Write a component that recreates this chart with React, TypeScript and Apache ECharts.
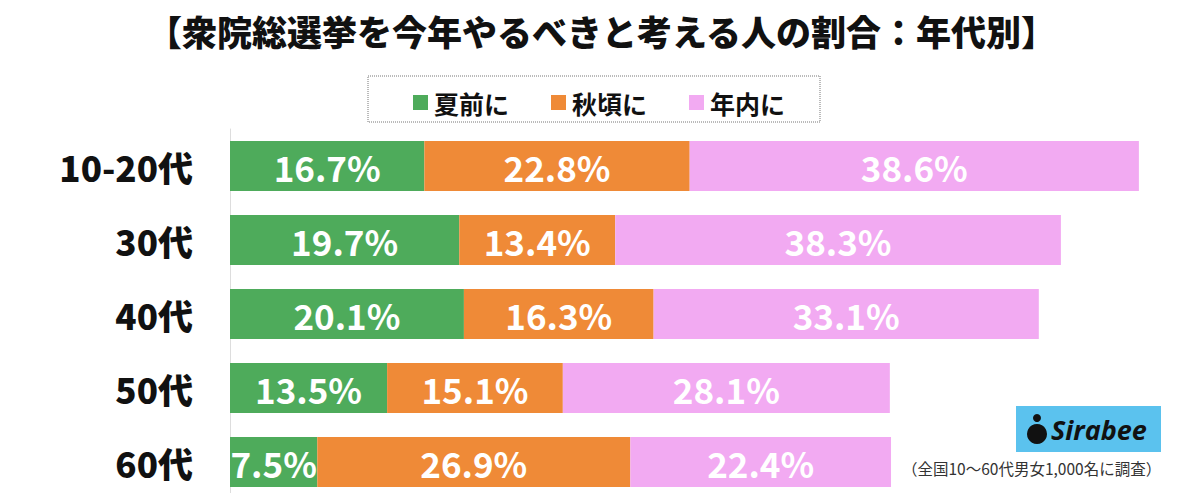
import React, { useEffect, useRef } from "react";
import * as echarts from "echarts";

const categories = ["10-20代", "30代", "40代", "50代", "60代"];
const seriesNames = ["夏前に", "秋頃に", "年内に"];
const summerValues = [16.7, 19.7, 20.1, 13.5, 7.5];
const autumnValues = [22.8, 13.4, 16.3, 15.1, 26.9];
const yearValues = [38.6, 38.3, 33.1, 28.1, 22.4];
const colors = ["#4eab5b", "#ef8a37", "#f2aaf2"];
const titleText = "【衆院総選挙を今年やるべきと考える人の割合：年代別】";
const noteText = "（全国10～60代男女1,000名に調査）";

const FONT = "'Noto Sans CJK JP', 'Noto Sans', sans-serif";

export default function App() {
  const ref = useRef<HTMLDivElement>(null);
  useEffect(() => {
    if (!ref.current) return;
    const chart = echarts.init(ref.current, null, { renderer: "svg" });
    const values = [summerValues, autumnValues, yearValues];
    chart.setOption({
      animation: false,
      backgroundColor: "#ffffff",
      textStyle: { fontFamily: FONT },
      title: {
        text: titleText,
        left: 142,
        top: 8,
        textStyle: { fontSize: 35, fontWeight: 900, color: "#111", fontFamily: FONT },
      },
      legend: {
        left: 408,
        top: 85,
        itemWidth: 15,
        itemHeight: 15,
        itemGap: 42,
        icon: "rect",
        data: seriesNames,
        textStyle: { fontSize: 25, fontWeight: "bold", color: "#111", fontFamily: FONT, padding: [0, 0, 0, 1] },
      },
      grid: { left: 230, right: 39, top: 129, bottom: 2, containLabel: false },
      xAxis: {
        type: "value",
        min: 0,
        max: 80,
        show: false,
      },
      yAxis: {
        type: "category",
        data: categories,
        inverse: true,
        axisLine: { show: true, lineStyle: { color: "#dddddd", width: 1 } },
        axisTick: { show: false },
        axisLabel: {
          margin: 37,
          fontSize: 35,
          fontWeight: 900,
          color: "#111",
          fontFamily: FONT,
        },
      },
      series: seriesNames.map((name, i) => ({
        name,
        type: "bar",
        stack: "total",
        barWidth: 50,
        data: values[i],
        itemStyle: { color: colors[i] },
        label: {
          show: true,
          position: "inside",
          formatter: "{c}%",
          color: "#ffffff",
          fontSize: 35,
          fontWeight: "bold",
          fontFamily: FONT,
        },
      })),
      graphic: [
        {
          type: "rect",
          shape: { x: 368, y: 76, width: 452, height: 46 },
          style: { fill: "none", stroke: "#777", lineWidth: 1, lineDash: [1, 1] },
        },
        {
          type: "rect",
          shape: { x: 1016, y: 406, width: 145, height: 46 },
          style: { fill: "#5bc2ee" },
        },
        {
          type: "circle",
          shape: { cx: 1037, cy: 434, r: 10 },
          style: { fill: "#111" },
        },
        {
          type: "circle",
          shape: { cx: 1037, cy: 418, r: 4 },
          style: { fill: "#111" },
        },
        {
          type: "text",
          style: {
            x: 1051,
            y: 429,
            text: "Sirabee",
            fill: "#111",
            font: `italic bold 27px 'Open Sans', sans-serif`,
            verticalAlign: "middle",
          },
        },
        {
          type: "text",
          style: {
            x: 902,
            y: 468,
            text: noteText,
            fill: "#333",
            font: `15.5px ${FONT}`,
            verticalAlign: "middle",
          },
        },
      ],
    });
    return () => chart.dispose();
  }, []);
  return <div ref={ref} style={{ width: 1200, height: 501, margin: -8 }} />;
}
